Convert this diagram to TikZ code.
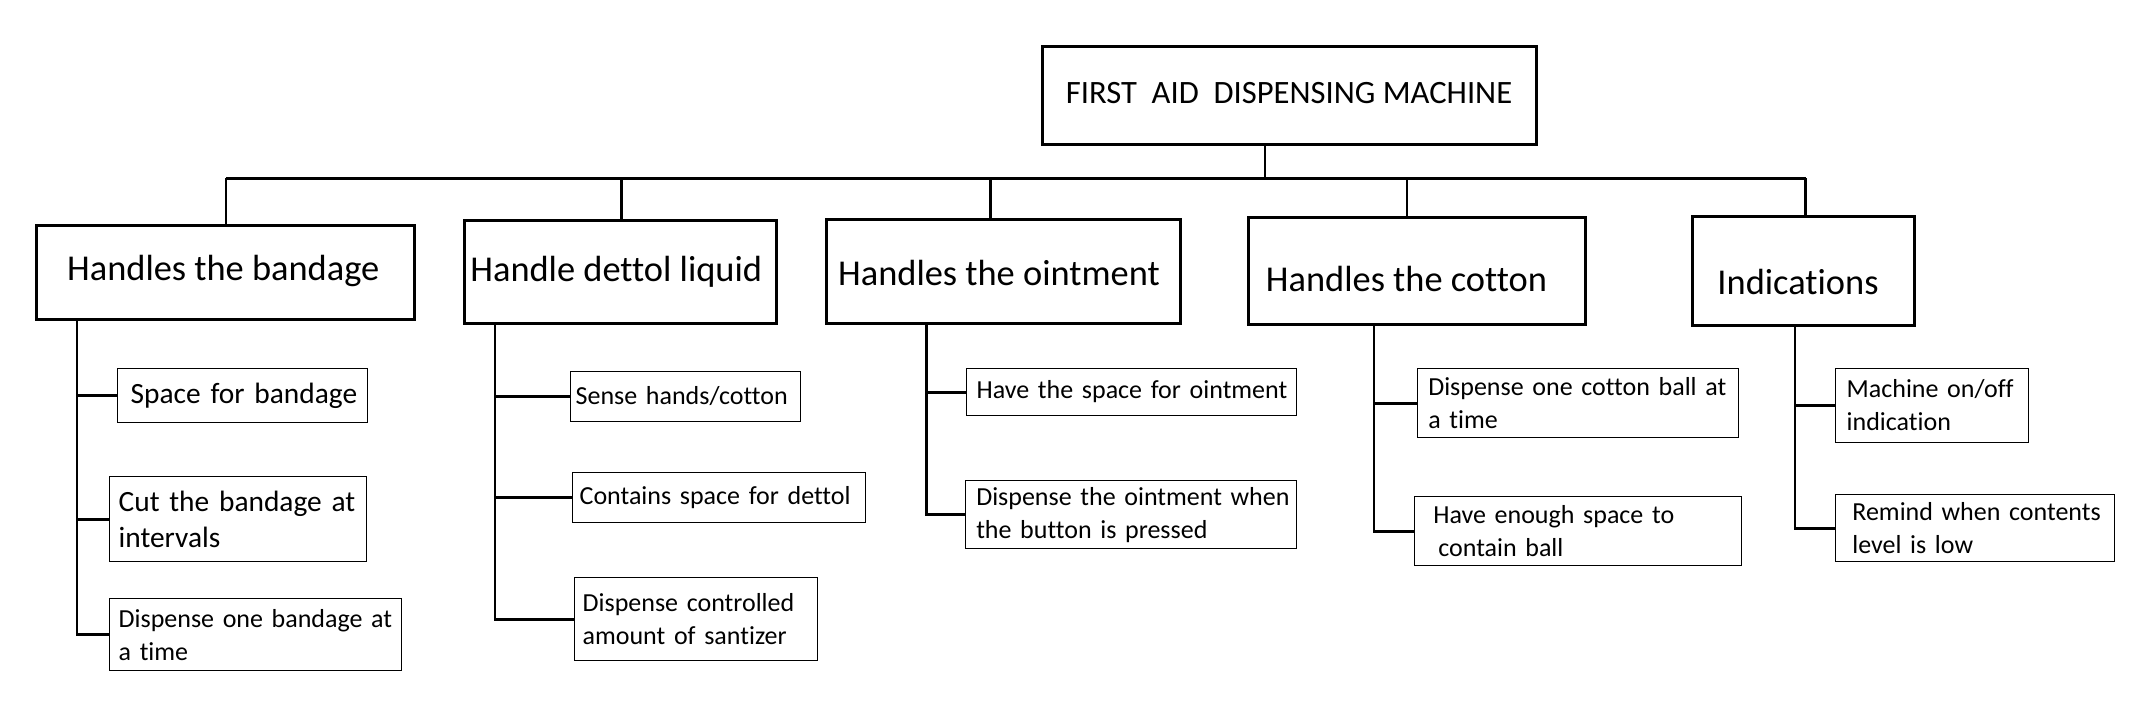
\documentclass[tikz,border=0pt]{standalone}
\usepackage{fontspec}
\setmainfont{Carlito}[Ligatures={NoCommon}]
% shift a label inside its box: #1 horizontal (pt, negative = left), #2 vertical (pt, negative = down)
\newcommand\shiftlabel[3]{\raisebox{#2}[\height][\depth]{\kern#1\relax #3\kern-#1\relax}}
\begin{document}
\begin{tikzpicture}[x=1pt,y=-1pt,
  rootbox/.style={draw, line width=3pt, inner sep=0pt, font=\fontsize{32.6}{39}\selectfont},
  topbox/.style={draw, line width=3pt, inner sep=0pt, font=\fontsize{36.4}{43}\selectfont},
  leaf/.style={draw, line width=1.3pt, anchor=north west, inner ysep=0pt, align=left, font=\fontsize{26}{33}\selectfont},
  bigleaf/.style={leaf, font=\fontsize{29.4}{36}\selectfont},
  bus/.style={line width=3pt},
  stem/.style={line width=2.2pt},
  trunk/.style={line width=2.6pt},
  branch/.style={line width=3pt}]
\useasboundingbox (0,0) rectangle (2144,704);

% root and first level
\node[rootbox, minimum width=494pt, minimum height=98pt] (root) at (1289,95) {\shiftlabel{0pt}{2pt}{FIRST\ \ AID\ \ DISPENSING MACHINE}};
\node[topbox, minimum width=377.5pt, minimum height=94pt] (B1) at (225.25,272) {\shiftlabel{-2pt}{1pt}{Handles the bandage}};
\node[topbox, minimum width=312.6pt, minimum height=103.7pt] (B2) at (620.3,271.9) {\shiftlabel{-4pt}{0pt}{Handle dettol liquid}};
\node[topbox, minimum width=354pt, minimum height=104pt] (B3) at (1003,271) {\shiftlabel{-4pt}{-2pt}{Handles the ointment}};
\node[topbox, minimum width=337pt, minimum height=107pt] (B4) at (1416.5,270.5) {\shiftlabel{-10pt}{-8pt}{Handles the cotton}};
\node[topbox, minimum width=222pt, minimum height=109pt] (B5) at (1803,270.5) {\shiftlabel{-5pt}{-11pt}{Indications}};

% leaves
\node[bigleaf, inner xsep=13.5pt, text width=223.5pt, minimum height=54.3pt] (L1a) at (116.5,367.7) {\mbox{Space for bandage}};
\node[bigleaf, inner xsep=9.3pt, text width=238.2pt, minimum height=85pt] (L1b) at (108.7,476) {\mbox{Cut the bandage at}\\\mbox{intervals}};
\node[leaf, inner xsep=9.3pt, text width=273.7pt, minimum height=72pt] (L1c) at (108.7,598) {\mbox{Dispense one bandage at}\\\mbox{a time}};

\node[leaf, inner xsep=5.4pt, text width=219.6pt, minimum height=50.3pt] (D1) at (569.6,370.7) {\mbox{Sense hands/cotton}};
\node[leaf, inner xsep=7.3pt, text width=278.7pt, minimum height=50pt] (D2) at (571.7,472) {\mbox{Contains space for dettol}};
\node[leaf, inner xsep=8pt, text width=227pt, minimum height=83pt] (D3) at (574,577) {\mbox{Dispense controlled}\\\mbox{amount of santizer}};

\node[leaf, inner xsep=10pt, text width=309.5pt, minimum height=47.3pt] (O1) at (966,367.7) {\mbox{Have the space for ointment}};
\node[leaf, inner xsep=11pt, text width=309pt, minimum height=68pt] (O2) at (964.6,480) {\mbox{Dispense the ointment when}\\\mbox{the button is pressed}};

\node[leaf, inner xsep=11pt, text width=299.4pt, minimum height=69.3pt] (C1) at (1416.6,367.7) {\mbox{Dispense one cotton ball at}\\\mbox{a time}};
\node[leaf, inner xsep=19pt, text width=289.3pt, minimum height=69.3pt] (C2) at (1413.7,495.7) {\mbox{Have enough space to}\\\mbox{\hspace{5pt}contain ball}};

\node[leaf, inner xsep=11pt, text width=171pt, minimum height=74.3pt] (I1) at (1835,367.7) {\mbox{Machine on/off}\\\mbox{indication}};
\node[leaf, inner xsep=17pt, text width=245.3pt, minimum height=67pt] (I2) at (1834.7,494) {\mbox{Remind when contents}\\\mbox{level is low}};

% bus and stems
\coordinate (rs) at (1265,178);
\coordinate (s1) at (226,178);
\coordinate (s2) at (621.5,178);
\coordinate (s3) at (990.5,178);
\coordinate (s4) at (1407,178);
\coordinate (s5) at (1805.5,178);
\draw[stem] (root.south -| rs) -- (rs);
\draw[bus] (s1) -- (s5);
\draw[stem] (s1) -- (s1 |- B1.north);
\draw[stem] (s2) -- (s2 |- B2.north);
\draw[stem] (s3) -- (s3 |- B3.north);
\draw[stem] (s4) -- (s4 |- B4.north);
\draw[stem] (s5) -- (s5 |- B5.north);

% trunks
\coordinate (t1) at (77,0);
\coordinate (t2) at (495,0);
\coordinate (t3) at (926.7,0);
\coordinate (t4) at (1374,0);
\coordinate (t5) at (1795,0);
\draw[trunk] (B1.south -| t1) -- ([yshift=-1.5pt]L1c.west -| t1);
\draw[trunk] (B2.south -| t2) -- ([yshift=-1.5pt]D3.west -| t2);
\draw[trunk] (B3.south -| t3) -- ([yshift=-1.5pt]O2.west -| t3);
\draw[trunk] (B4.south -| t4) -- ([yshift=-1.5pt]C2.west -| t4);
\draw[trunk] (B5.south -| t5) -- ([yshift=-1.5pt]I2.west -| t5);

% branches
\foreach \n in {L1a,L1b,L1c} \draw[branch] (\n.west -| t1) -- (\n.west);
\foreach \n in {D1,D2,D3} \draw[branch] (\n.west -| t2) -- (\n.west);
\foreach \n in {O1,O2} \draw[branch] (\n.west -| t3) -- (\n.west);
\foreach \n in {C1,C2} \draw[branch] (\n.west -| t4) -- (\n.west);
\foreach \n in {I1,I2} \draw[branch] (\n.west -| t5) -- (\n.west);
\end{tikzpicture}
\end{document}
